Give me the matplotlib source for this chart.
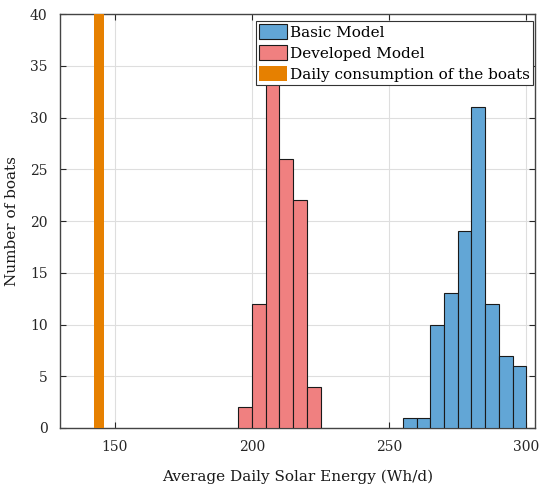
import numpy as np
import matplotlib.pyplot as plt

plt.rcParams['font.family'] = ['DejaVu Serif']

# histogram data (bin edges, counts)
basic_edges = [255, 260, 265, 270, 275, 280, 285, 290, 295, 300]
basic_counts = [1, 1, 10, 13, 19, 31, 12, 7, 6]
dev_edges = [195, 200, 205, 210, 215, 220, 225]
dev_counts = [2, 12, 34, 26, 22, 4]
consumption = 144.25
consumption_height = 40

fig = plt.figure(figsize=(5.41, 4.88), dpi=100)
ax = fig.add_axes([0.111, 0.123, 0.877, 0.848])

ax.bar(basic_edges[:-1], basic_counts, width=np.diff(basic_edges), align='edge',
       color='#62a6d6', edgecolor='#1a1a1a', linewidth=0.8, label='Basic Model', zorder=3)
ax.bar(dev_edges[:-1], dev_counts, width=np.diff(dev_edges), align='edge',
       color='#f08080', edgecolor='#1a1a1a', linewidth=0.8, label='Developed Model', zorder=3)
ax.bar(consumption, consumption_height, width=3.5, color='#e68000',
       label='Daily consumption of the boats', zorder=3)

ax.set_xlim(130, 303)
ax.set_ylim(0, 40)
ax.set_xticks([150, 200, 250, 300])
ax.set_yticks(range(0, 41, 5))
ax.grid(True, color='#dedede', linewidth=0.8, zorder=0)
ax.tick_params(direction='in', top=True, right=True, labelsize=10, colors='#262626', length=4)
ax.tick_params(axis='x', pad=9)
ax.tick_params(axis='y', pad=9)
for s in ax.spines.values():
    s.set_color('#444444')
    s.set_linewidth(1.0)

ax.set_xlabel('Average Daily Solar Energy (Wh/d)', fontsize=11, color='#1a1a1a', labelpad=11)
ax.set_ylabel('Number of boats', fontsize=11, color='#1a1a1a', labelpad=8)

leg = ax.legend(loc='upper right', bbox_to_anchor=(0.996, 0.983), fontsize=11,
                fancybox=False, framealpha=1, edgecolor='#333333', borderpad=0.2,
                handlelength=1.8, handleheight=1.1, handletextpad=0.2,
                labelspacing=0.35, borderaxespad=0)
leg.get_frame().set_linewidth(0.8)
leg.set_zorder(5)

fig.savefig('out.png', dpi=100)
